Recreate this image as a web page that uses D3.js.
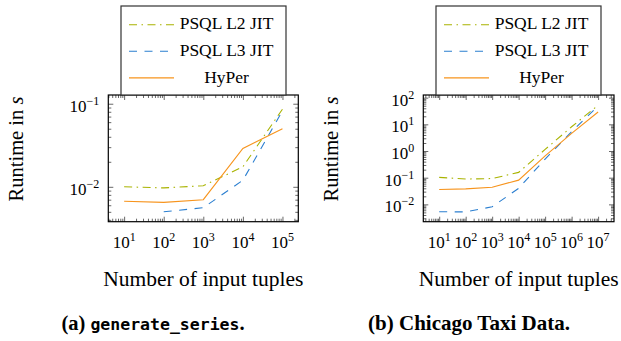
<!DOCTYPE html>
<html>
<head>
<meta charset="utf-8">
<script src="https://cdn.jsdelivr.net/npm/d3@7"></script>
<style>
  body { margin: 0; background: #fff; }
  svg { display: block; }
  text, tspan { font-family: 'Liberation Serif', 'DejaVu Serif', 'Times New Roman', serif; fill: #000; }
  tspan.mono { font-family: 'DejaVu Sans Mono', 'Liberation Mono', monospace; }
</style>
</head>
<body>
<div id="chart"></div>
<script>
const seriesNames = ['PSQL L2 JIT', 'PSQL L3 JIT', 'HyPer'];

// (a) generate_series
const genTuples = [1e1, 1e2, 1e3, 1e4, 1e5];
const genL2 = [0.0100, 0.0097, 0.0103, 0.0174, 0.086];
const genL3 = [null, 0.0050, 0.0056, 0.0120, 0.082];
const genHyPer = [0.0067, 0.0065, 0.0070, 0.029, 0.050];

// (b) Chicago Taxi Data
const taxiTuples = [1e1, 1e2, 1e3, 1e4, 1e5, 1e6, 1e7];
const taxiL2 = [0.103, 0.089, 0.093, 0.158, 1.15, 8.1, 52];
const taxiL3 = [0.0053, 0.0052, 0.0081, 0.040, 0.50, 5.3, 49];
const taxiHyPer = [0.036, 0.038, 0.044, 0.081, 0.66, 4.6, 29];

const colors = ['#a9b300', '#2b7fd0', '#f7941d'];
const dashes = ['8,4.5,1.5,4.5', '8,7.5', null];

const svg = d3.select('#chart').append('svg')
  .attr('width', 621).attr('height', 341);

// one log-log panel with legend on top
function drawPanel(o) {
  const { left, top, width, height } = o;
  const x = d3.scaleLog().domain(o.xDomain).range([left, left + width]);
  const y = d3.scaleLog().domain(o.yDomain).range([top + height, top]);
  const g = svg.append('g');

  // major / minor ticks inside the frame, on all four sides
  const decades = (dom) => d3.range(Math.floor(Math.log10(dom[0])), Math.ceil(Math.log10(dom[1])) + 1);
  const majors = (dom) => decades(dom).map((k) => Math.pow(10, k)).filter((v) => v >= dom[0] && v <= dom[1]);
  const minors = (dom) => {
    const out = [];
    decades(dom).forEach((k) => {
      for (let m = 2; m <= 9; m++) {
        const v = m * Math.pow(10, k);
        if (v >= dom[0] && v <= dom[1]) out.push(v);
      }
    });
    return out;
  };

  const tickGroups = [
    [d3.axisBottom(x), `translate(0,${top + height})`, o.xDomain],
    [d3.axisTop(x), `translate(0,${top})`, o.xDomain],
    [d3.axisLeft(y), `translate(${left},0)`, o.yDomain],
    [d3.axisRight(y), `translate(${left + width},0)`, o.yDomain],
  ];
  tickGroups.forEach(([axis, tr, dom]) => {
    [[majors(dom), 5], [minors(dom), 3]].forEach(([vals, len]) => {
      axis.tickValues(vals).tickSize(-len).tickFormat('');
      g.append('g')
        .attr('transform', tr)
        .call(axis)
        .call((s) => s.select('.domain').remove())
        .selectAll('line').attr('stroke', '#000').attr('stroke-width', 0.6);
    });
  });

  // frame
  g.append('rect')
    .attr('x', left).attr('y', top).attr('width', width).attr('height', height)
    .attr('fill', 'none').attr('stroke', '#000').attr('stroke-width', 1.2);

  // x tick labels
  majors(o.xDomain).forEach((v) => {
    const t = g.append('text')
      .attr('x', x(v)).attr('y', top + height + 26.5)
      .attr('text-anchor', 'middle').attr('font-size', 17);
    t.append('tspan').text('10');
    t.append('tspan').attr('font-size', 12).attr('dy', -7).text(Math.round(Math.log10(v)));
  });

  // y tick labels
  majors(o.yDomain).forEach((v) => {
    const t = g.append('text')
      .attr('x', left - 9).attr('y', y(v) + 8)
      .attr('text-anchor', 'end').attr('font-size', 17);
    t.append('tspan').text('10');
    t.append('tspan').attr('font-size', 12).attr('dy', -7)
      .text(String(Math.round(Math.log10(v))).replace('-', '\u2212'));
  });

  // axis titles
  g.append('text')
    .attr('x', left + width / 2).attr('y', 286)
    .attr('text-anchor', 'middle').attr('font-size', 21.5)
    .text('Number of input tuples');
  const yl = g.append('text')
    .attr('transform', `translate(${left - 85},149) rotate(-90)`)
    .attr('text-anchor', 'middle').attr('font-size', 20.5);
  yl.append('tspan').text('Runtime in ');
  yl.append('tspan').attr('font-style', 'italic').text('s');

  // series
  const line = d3.line()
    .x((d) => x(d[0])).y((d) => y(d[1]));
  o.series.forEach((vals, i) => {
    g.append('path')
      .datum(o.xs.map((xv, j) => [xv, vals[j]]).filter((d) => d[1] != null))
      .attr('d', line)
      .attr('fill', 'none')
      .attr('stroke', colors[i])
      .attr('stroke-width', 1.1)
      .attr('stroke-dasharray', dashes[i]);
  });

  // legend
  const lg = g.append('g');
  lg.append('rect')
    .attr('x', o.legendX).attr('y', 6).attr('width', 165).attr('height', top - 6)
    .attr('fill', '#fff').attr('stroke', '#333').attr('stroke-width', 1.2);
  seriesNames.forEach((name, i) => {
    const by = 29.3 + i * 26.6;
    lg.append('line')
      .attr('x1', o.legendX + 8).attr('x2', o.legendX + 53)
      .attr('y1', by - 4.6).attr('y2', by - 4.6)
      .attr('stroke', colors[i]).attr('stroke-width', 1.1)
      .attr('stroke-dasharray', dashes[i]);
    lg.append('text')
      .attr('x', o.legendX + 105.5).attr('y', by)
      .attr('text-anchor', 'middle').attr('font-size', 17.5)
      .text(name);
  });
}

drawPanel({
  left: 108.3, top: 95, width: 190, height: 126.7,
  xDomain: [Math.pow(10, 0.6), Math.pow(10, 5.4)],
  yDomain: [Math.pow(10, -2.42), Math.pow(10, -0.895)],
  xs: genTuples, series: [genL2, genL3, genHyPer],
  legendX: 121,
});

drawPanel({
  left: 423.3, top: 95, width: 190.7, height: 126.7,
  xDomain: [Math.pow(10, 0.4), Math.pow(10, 7.6)],
  yDomain: [Math.pow(10, -2.65), Math.pow(10, 2.1)],
  xs: taxiTuples, series: [taxiL2, taxiL3, taxiHyPer],
  legendX: 436,
});

// sub-captions
const capA = svg.append('text')
  .attr('x', 153).attr('y', 329.5).attr('text-anchor', 'middle')
  .attr('font-weight', 'bold').attr('font-size', 20.5);
capA.append('tspan').text('(a) ');
capA.append('tspan').attr('class', 'mono')
  .attr('font-size', 16.5).text('generate_series');
capA.append('tspan').text('.');

svg.append('text')
  .attr('x', 469).attr('y', 329.5).attr('text-anchor', 'middle')
  .attr('font-weight', 'bold').attr('font-size', 21)
  .text('(b) Chicago Taxi Data.');
</script>
</body>
</html>
